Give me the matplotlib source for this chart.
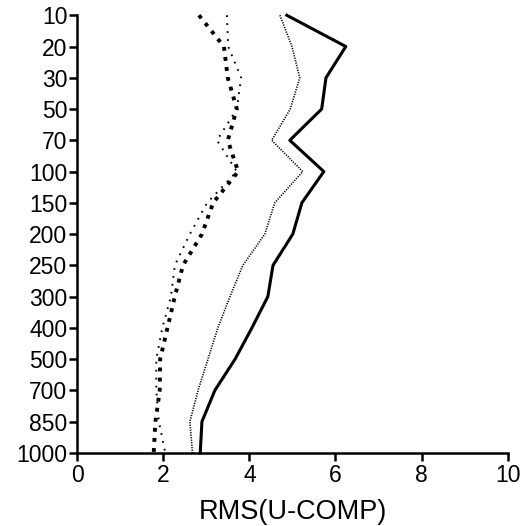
import matplotlib
matplotlib.use("Agg")
import matplotlib.pyplot as plt
import numpy as np

# pressure levels (hPa), plotted evenly spaced top -> bottom
levels = ["10", "20", "30", "50", "70", "100", "150", "200", "250", "300",
          "400", "500", "700", "850", "1000"]

# RMS(U-COMP) values
rms_solid = [4.87, 6.24, 5.78, 5.68, 4.94, 5.73, 5.22, 5.01, 4.55, 4.43,
             4.06, 3.67, 3.20, 2.90, 2.86]
rms_fine = [4.71, 4.99, 5.17, 4.95, 4.52, 5.24, 4.59, 4.36, 3.85, 3.55,
            3.27, 3.04, 2.81, 2.62, 2.68]
rms_bold = [2.83, 3.41, 3.50, 3.71, 3.50, 3.74, 3.16, 2.90, 2.46, 2.27,
            2.10, 1.93, 1.92, 1.82, 1.78]
rms_sparse = [3.48, 3.51, 3.81, 3.71, 3.25, 3.71, 3.02, 2.62, 2.27, 2.18,
              1.98, 1.84, 1.84, 1.90, 2.05]

xticks = [0, 2, 4, 6, 8, 10]

plt.rcParams.update({
    "font.family": ["Liberation Sans", "DejaVu Sans"],
    "font.size": 16.5,
})

fig = plt.figure(figsize=(5.24, 5.26), dpi=100)
ax = fig.add_axes([0.147, 0.139, 0.822, 0.832])

y = np.arange(len(levels))
ax.plot(rms_solid, y, color="black", lw=2.2, clip_on=False)
ax.plot(rms_fine, y, color="black", lw=1.2, ls=(0, (0.7, 0.8)), clip_on=False)
ax.plot(rms_bold, y, color="black", lw=2.8, ls=(0, (1.0, 1.6)), clip_on=False)
ax.plot(rms_sparse, y, color="black", lw=1.4, ls=(0, (0.9, 3.2)), clip_on=False)

ax.set_xlim(0, 10)
ax.set_ylim(len(levels) - 1, 0)
ax.set_yticks(y)
ax.set_yticklabels(levels)
ax.set_xticks(xticks)
ax.set_xticklabels([str(t) for t in xticks])

for side in ("top", "right"):
    ax.spines[side].set_visible(False)
for side in ("left", "bottom"):
    ax.spines[side].set_linewidth(1.8)
ax.tick_params(axis="both", direction="out", length=6, width=1.8, pad=1)
ax.tick_params(axis="x", pad=2)

ax.set_xlabel("RMS(U-COMP)", fontsize=19.5, labelpad=9)

fig.savefig("out.png", dpi=100)
